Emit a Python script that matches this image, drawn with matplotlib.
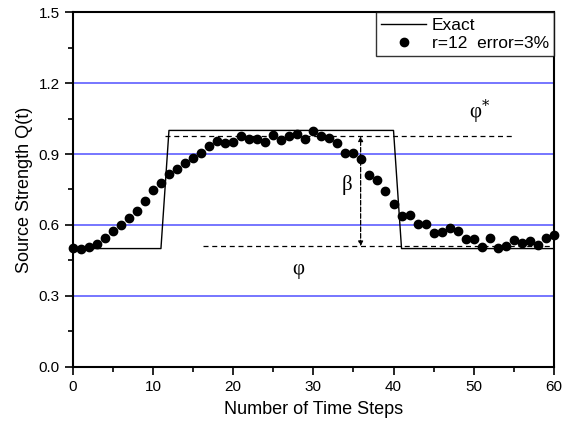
import numpy as np
import matplotlib
matplotlib.use('Agg')
import matplotlib.pyplot as plt

# exact source strength (piecewise)
exact_t = [0, 11, 12, 40, 41, 60]
exact_q = [0.5, 0.5, 1.0, 1.0, 0.5, 0.5]

# reconstructed values, r=12, error=3%
steps = list(range(61))
recon = [0.503, 0.499, 0.506, 0.521, 0.544, 0.576, 0.599, 0.631, 0.661, 0.701,
         0.747, 0.776, 0.814, 0.838, 0.863, 0.885, 0.906, 0.936, 0.956, 0.946,
         0.951, 0.977, 0.962, 0.962, 0.950, 0.980, 0.960, 0.975, 0.983, 0.962,
         0.996, 0.976, 0.967, 0.945, 0.904, 0.906, 0.879, 0.811, 0.789, 0.745,
         0.689, 0.638, 0.642, 0.603, 0.603, 0.566, 0.569, 0.585, 0.575, 0.540,
         0.540, 0.507, 0.544, 0.504, 0.511, 0.535, 0.524, 0.531, 0.515, 0.544,
         0.556]

phi_star = 0.975
phi = 0.51
beta_t = 35.9

plt.rcParams['font.family'] = ['Liberation Sans', 'DejaVu Sans']
plt.rcParams['mathtext.fontset'] = 'dejavuserif'

fig = plt.figure(figsize=(5.74, 4.28), dpi=100)
ax = fig.add_axes([0.1267, 0.1432, 0.8383, 0.8281])

for g in [0.3, 0.6, 0.9, 1.2]:
    ax.axhline(g, color='#6b6bff', lw=1.3, zorder=1)

ax.plot(exact_t, exact_q, color='black', lw=1.0, label='Exact', zorder=3)
ax.plot(steps, recon, 'o', color='black', ms=6, label='r=12  error=3%',
        zorder=4, clip_on=False)

# reference levels and amplitude arrow
ax.plot([11.5, 55], [phi_star, phi_star], '--', color='black', lw=0.9, dashes=(4, 3), zorder=2)
ax.plot([16.3, 60], [phi, phi], '--', color='black', lw=0.9, dashes=(4, 3), zorder=2)
ax.annotate('', xy=(beta_t, phi_star), xytext=(beta_t, phi),
            arrowprops=dict(arrowstyle='<|-|>', linestyle='--', color='black',
                            lw=0.9, mutation_scale=7, shrinkA=0, shrinkB=0))

serif = ['Liberation Serif', 'DejaVu Serif']
ax.text(50.7, 1.08, r'φ$^{*}$', family=serif, fontsize=15, ha='center', va='center')
ax.text(34.2, 0.77, 'β', family=serif, fontsize=15, ha='center', va='center')
ax.text(28.1, 0.41, 'φ', family=serif, fontsize=15, ha='center', va='center')

ax.set_xlim(0, 60)
ax.set_ylim(0, 1.5)
ax.set_xticks(range(0, 61, 10))
ax.set_xticks(range(5, 60, 10), minor=True)
ax.set_yticks([0.0, 0.3, 0.6, 0.9, 1.2, 1.5])
ax.set_yticks([0.15, 0.45, 0.75, 1.05, 1.35], minor=True)
ax.set_yticklabels(['0.0', '0.3', '0.6', '0.9', '1.2', '1.5'])
ax.tick_params(which='major', direction='out', length=6, width=1.2, labelsize=11)
ax.tick_params(which='minor', direction='out', length=3.5, width=1.2)
for s in ax.spines.values():
    s.set_linewidth(1.5)

ax.set_xlabel('Number of Time Steps', fontsize=13, labelpad=5)
ax.set_ylabel('Source Strength Q(t)', fontsize=13)

leg = ax.legend(loc='upper right', fontsize=12.5, frameon=True, fancybox=False,
                borderaxespad=0, handlelength=2.6, handletextpad=0.3,
                borderpad=0.3, labelspacing=0.2)
leg.get_frame().set_edgecolor('black')
leg.get_frame().set_linewidth(1.0)

plt.savefig('out.png', dpi=100)
